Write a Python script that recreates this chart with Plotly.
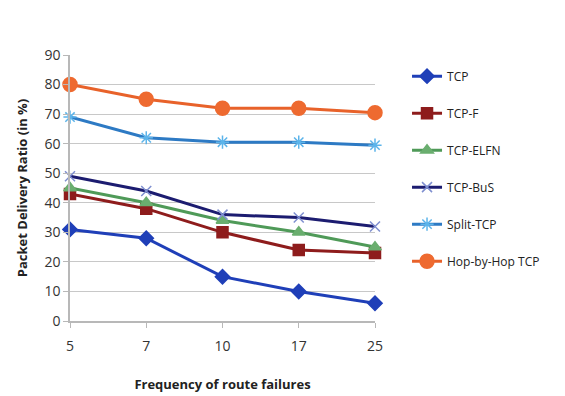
import plotly.graph_objects as go

categories = ["5", "7", "10", "17", "25"]
tcp = [31, 28, 15, 10, 6]
tcp_f = [43, 38, 30, 24, 23]
tcp_elfn = [45, 40, 34, 30, 25]
tcp_bus = [49, 44, 36, 35, 32]
split_tcp = [69, 62, 60.5, 60.5, 59.5]
hop_tcp = [80, 75, 72, 72, 70.5]
y_ticks = [0, 10, 20, 30, 40, 50, 60, 70, 80, 90]

series = [
    ("TCP", tcp, "#1f3fb8", "diamond", 11, "#1f3fb8"),
    ("TCP-F", tcp_f, "#8e1c1c", "square", 11, "#8e1c1c"),
    ("TCP-ELFN", tcp_elfn, "#4f9a58", "triangle-up", 11, "#6aae6f"),
    ("TCP-BuS", tcp_bus, "#1c1c70", "x-thin-open", 10, "#7f8fd0"),
    ("Split-TCP", split_tcp, "#2d7ac4", "asterisk-open", 11, "#5cb4ea"),
    ("Hop-by-Hop TCP", hop_tcp, "#e8622a", "circle", 14, "#ee6a30"),
]

x_idx = list(range(len(categories)))
fig = go.Figure()
for name, vals, col, sym, size, mcol in series:
    fig.add_trace(go.Scatter(
        x=x_idx, y=vals, name=name, mode="lines+markers",
        line=dict(color=col, width=3),
        marker=dict(symbol=sym, size=size, color=mcol,
                    line=dict(color=mcol, width=1.5)),
        cliponaxis=False, legendgroup=name,
    ))

fig.update_layout(
    width=565, height=396,
    margin=dict(l=70, r=190, t=55, b=75, autoexpand=False),
    paper_bgcolor="white", plot_bgcolor="white",
    font=dict(family="Open Sans, Liberation Sans, sans-serif", size=13, color="#333"),
    showlegend=True,
    legend=dict(x=1.105, y=0.975, xanchor="left", yanchor="top",
                font=dict(size=12, color="#222"), tracegroupgap=18,
                itemwidth=30, bgcolor="rgba(0,0,0,0)"),
    xaxis=dict(
        range=[0, 4], tickmode="array", tickvals=x_idx, ticktext=categories,
        showgrid=False, showline=True, linecolor="#b8b8b8", linewidth=1.5,
        ticks="outside", ticklen=5, tickcolor="#b8b8b8",
        tickfont=dict(size=14, color="#333"), ticklabelstandoff=6,
        title=dict(text="<b>Frequency of route failures</b>", font=dict(size=13, color="#222"), standoff=26),
        zeroline=False,
    ),
    yaxis=dict(
        range=[0, 90], tickmode="array", tickvals=y_ticks,
        showgrid=True, gridcolor="#c8c8c8", gridwidth=1.2,
        showline=True, linecolor="#b8b8b8", linewidth=1.5,
        ticks="outside", ticklen=5, tickcolor="#b8b8b8",
        tickfont=dict(size=14, color="#333"),
        title=dict(text="<b>Packet Delivery Ratio (in %)</b>", font=dict(size=13, color="#222"), standoff=14),
        zeroline=False,
    ),
)

fig.write_html("out.html")
